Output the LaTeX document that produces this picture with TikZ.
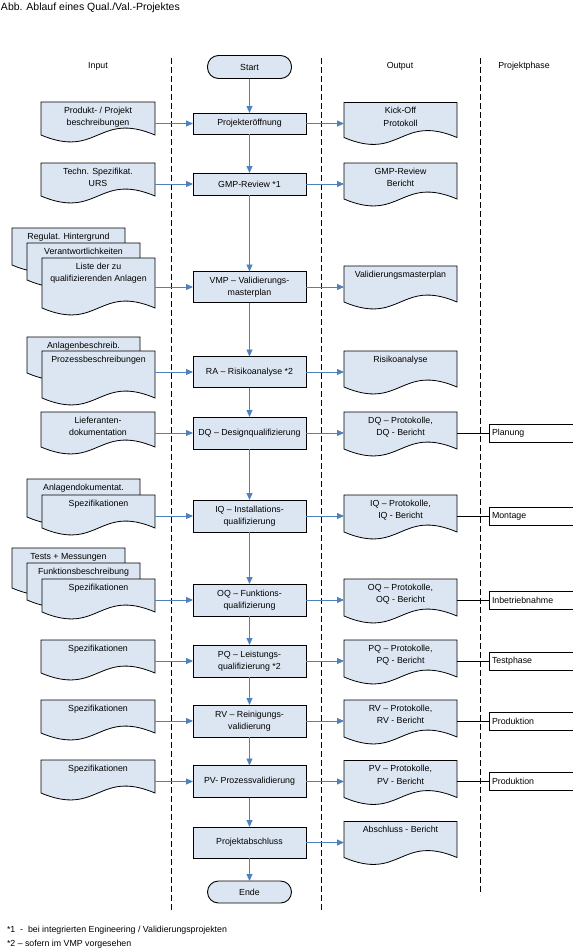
\documentclass[tikz,border=0pt]{standalone}
\usepackage{fontspec}
\setmainfont{Liberation Sans}
\usetikzlibrary{arrows.meta,calc}
\definecolor{boxfill}{RGB}{220,230,242}
\definecolor{arrowblue}{RGB}{79,129,189}
\tikzset{
 every node/.style={font=\fontsize{8.8}{12.5}\selectfont, inner sep=0pt, outer sep=0pt},
 procbox/.style={draw=black, fill=boxfill, line width=0.9pt, minimum width=113pt, align=center},
 term/.style={draw=black, fill=boxfill, line width=0.9pt, minimum width=84pt, minimum height=23pt, rounded corners=11pt},
 flow/.style={draw=arrowblue, line width=0.9pt, -{Triangle[length=7pt,width=6pt]}},
 docbox/.style={inner sep=0pt, outer sep=0pt, anchor=north west},
 docshape/.style={fill=boxfill, draw=black, line width=0.8pt},
 doctext/.style={align=center, anchor=north},
 phasebox/.style={draw=black, fill=white, line width=0.9pt, minimum height=18pt, anchor=west, text width=90pt, align=left, inner xsep=3pt},
 phaseline/.style={draw=black, line width=0.9pt},
 lane/.style={draw=black, line width=0.8pt, dash pattern=on 6pt off 3pt},
 headtext/.style={anchor=center},
 notetext/.style={anchor=west}
}
\newcommand\docnode[6]{%
  \node[docbox, minimum width=#4pt, minimum height=#5pt] (#1) at (#2,#3) {};
  \path[docshape] (#1.north west) -- (#1.north east) -- (#1.south east)
    .. controls ($(#1.south)+(0,-24)$) and ($(#1.south)+(0,24)$) .. (#1.south west) -- cycle;
  \node[doctext] (#1t) at ($(#1.north)+(0,5)$) {#6};
}
\begin{document}
\begin{tikzpicture}[x=1pt,y=-1pt]
\useasboundingbox (0,0) rectangle (573,951);
\clip (0,0) rectangle (573,951);

% title
\node[anchor=west, font=\fontsize{10.5}{12}\selectfont] (title) at (1,8) {Abb. Ablauf eines Qual./Val.-Projektes};

% lanes
\coordinate (l1t) at (171,58); \coordinate (l1b) at (171,912);
\coordinate (l2t) at (321,58); \coordinate (l2b) at (321,912);
\coordinate (l3t) at (480,58); \coordinate (l3b) at (480,895);
\draw[lane] (l1t) -- (l1b);
\draw[lane] (l2t) -- (l2b);
\draw[lane] (l3t) -- (l3b);

% headers
\node[headtext] (hin) at (98,66) {Input};
\node[headtext] (hout) at (400,66) {Output};
\node[headtext] (hph) at (524,66) {Projektphase};

% process column
\node[term] (start) at (249.5,67) {Start};
\node[procbox, minimum height=21pt] (p1) at (249.5,123.5) {Projekteröffnung};
\node[procbox, minimum height=22pt] (p2) at (249.5,184) {GMP-Review *1};
\node[procbox, minimum height=31pt] (p3) at (249.5,287) {VMP – Validierungs-\\masterplan};
\node[procbox, minimum height=31pt] (p4) at (249.5,372) {RA – Risikoanalyse *2};
\node[procbox, minimum height=32pt] (p5) at (249.5,433) {DQ – Designqualifizierung};
\node[procbox, minimum height=32pt] (p6) at (249.5,516) {IQ – Installations-\\qualifizierung};
\node[procbox, minimum height=32pt] (p7) at (249.5,600) {OQ – Funktions-\\qualifizierung};
\node[procbox, minimum height=32pt] (p8) at (249.5,661) {PQ – Leistungs-\\qualifizierung *2};
\node[procbox, minimum height=32pt] (p9) at (249.5,721) {RV – Reinigungs-\\validierung};
\node[procbox, minimum height=32pt] (p10) at (249.5,781.5) {PV- Prozessvalidierung};
\node[procbox, minimum height=31pt] (p11) at (249.5,842.5) {Projektabschluss};
\node[term, minimum height=22pt] (ende) at (249.5,892) {Ende};

\draw[flow] (start) -- (p1);
\draw[flow] (p1) -- (p2);
\draw[flow] (p2) -- (p3);
\draw[flow] (p3) -- (p4);
\draw[flow] (p4) -- (p5);
\draw[flow] (p5) -- (p6);
\draw[flow] (p6) -- (p7);
\draw[flow] (p7) -- (p8);
\draw[flow] (p8) -- (p9);
\draw[flow] (p9) -- (p10);
\draw[flow] (p10) -- (p11);
\draw[flow] (p11) -- (ende);

% input documents
\docnode{in1}{41}{102}{114}{33}{Produkt- / Projekt\\beschreibungen}
\docnode{in2}{41}{163}{114}{33}{Techn. Spezifikat.\\URS}
\docnode{b3a}{12}{228}{113}{37}{Regulat. Hintergrund}
\docnode{b3b}{27}{243}{113}{37}{Verantwortlichkeiten}
\docnode{in3}{42}{258}{113}{50}{Liste der zu\\qualifizierenden Anlagen}
\docnode{b4a}{27}{337}{113}{36}{Anlagenbeschreib.}
\docnode{in4}{42}{351}{113}{47}{Prozessbeschreibungen}
\docnode{in5}{41}{412}{114}{35}{Lieferanten-\\dokumentation}
\docnode{b6a}{27}{479}{113}{38}{Anlagendokumentat.}
\docnode{in6}{42}{495}{113}{33}{Spezifikationen}
\docnode{b7a}{12}{548}{113}{40}{Tests + Messungen}
\docnode{b7b}{27}{563}{113}{37}{Funktionsbeschreibung}
\docnode{in7}{42}{579}{113}{33}{Spezifikationen}
\docnode{in8}{41}{640}{114}{33}{Spezifikationen}
\docnode{in9}{41}{700}{114}{33}{Spezifikationen}
\docnode{in10}{41}{760}{114}{33}{Spezifikationen}

\foreach \i in {1,...,10}{\draw[flow] (in\i.east |- p\i) -- (p\i.west);}

% output documents
\docnode{o1}{344}{102.5}{113}{35}{Kick-Off\\Protokoll}
\docnode{o2}{344}{163}{113}{36}{GMP-Review\\Bericht}
\docnode{o3}{344}{266}{113}{36}{Validierungsmasterplan}
\docnode{o4}{344}{351}{113}{36}{Risikoanalyse}
\docnode{o5}{344}{412}{113}{37}{DQ – Protokolle,\\DQ - Bericht}
\docnode{o6}{344}{495}{113}{37}{IQ – Protokolle,\\IQ - Bericht}
\docnode{o7}{344}{579}{113}{37}{OQ – Protokolle,\\OQ - Bericht}
\docnode{o8}{344}{640}{113}{37}{PQ – Protokolle,\\PQ - Bericht}
\docnode{o9}{344}{700}{113}{37}{RV – Protokolle,\\RV - Bericht}
\docnode{o10}{344}{760.5}{113}{37}{PV – Protokolle,\\PV - Bericht}
\docnode{o11}{344}{821.5}{113}{36}{Abschluss - Bericht}

\foreach \i in {1,...,11}{\draw[flow] (p\i.east) -- (o\i.west |- p\i);}

% phases
\node[phasebox] (ph5) at (489,433) {Planung};
\node[phasebox] (ph6) at (489,516) {Montage};
\node[phasebox] (ph7) at (489,600) {Inbetriebnahme};
\node[phasebox] (ph8) at (489,661) {Testphase};
\node[phasebox] (ph9) at (489,721) {Produktion};
\node[phasebox] (ph10) at (489,781.5) {Produktion};
\foreach \i in {5,...,10}{\draw[phaseline] (o\i.east |- p\i) -- (ph\i.west);}

% footnotes
\node[notetext] (n1) at (7,930) {*1\ \ -\ \ bei integrierten Engineering / Validierungsprojekten};
\node[notetext] (n2) at (7,944) {*2 – sofern im VMP vorgesehen};
\end{tikzpicture}
\end{document}
